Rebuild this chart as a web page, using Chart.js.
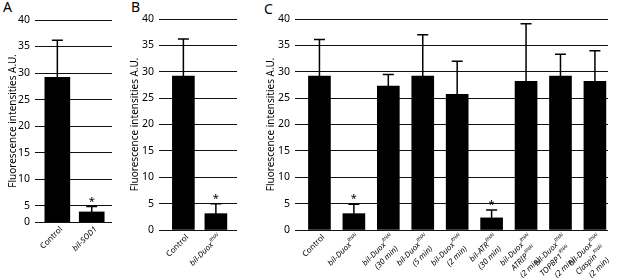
<!DOCTYPE html>
<html lang="en">
<head>
<meta charset="UTF-8">
<title>Fluorescence intensities</title>
<style>
  body { margin: 0; background: #fff; width: 617px; height: 278px; position: relative; overflow: hidden; font-family: "Noto Sans", sans-serif; }
  canvas { position: absolute; top: 0; }
  .letter { position: absolute; top: 0; font-size: 14px; line-height: 14px; color: #000; }
</style>
</head>
<body>
<div class="letter" style="left:3px">A</div>
<div class="letter" style="left:131px">B</div>
<div class="letter" style="left:264px;top:2px">C</div>
<canvas id="chartA" width="120" height="278" style="left:0"></canvas>
<canvas id="chartB" width="120" height="278" style="left:120px"></canvas>
<canvas id="chartC" width="377" height="278" style="left:240px"></canvas>
<script src="https://cdn.jsdelivr.net/npm/chart.js"></script>
<script>
// y axis, shared by all three panels
const yTickLabels = [0, 5, 10, 15, 20, 25, 30, 35, 40];
const axisCutA = 1.9; // panel A's axis is cut short at the bottom

// panel A
const labelsA = [['Control'], ['bil-SOD1']];
const meansA = [29.2, 3.8];
const errorsA = [7.0, 1.0];
const starsA = [false, true];

// panel B
const labelsB = [['Control'], ['bil-Duox^RNAi']];
const meansB = [29.2, 3.1];
const errorsB = [7.0, 1.9];
const starsB = [false, true];

// panel C
const labelsC = [
    ['Control'],
    ['bil-Duox^RNAi'],
    ['bil-Duox^RNAi', '(30 min)'],
    ['bil-Duox^RNAi', '(5 min)'],
    ['bil-Duox^RNAi', '(2 min)'],
    ['bil-ATR^RNAi', '(30 min)'],
    ['bil-Duox^RNAi', 'ATRIP^RNAi', '(2 min)'],
    ['bil-Duox^RNAi', 'TOPBP1^RNAi', '(2 min)'],
    ['bil-Duox^RNAi', 'Claspin^RNAi', '(2 min)']
];
const meansC = [29.2, 3.1, 27.3, 29.2, 25.7, 2.3, 28.2, 29.2, 28.2];
const errorsC = [6.9, 1.8, 2.2, 7.8, 6.3, 1.5, 10.9, 4.1, 5.8];
const starsC = [false, true, false, false, false, true, false, false, false];

const FONT = '"Noto Sans", sans-serif';

// upper error bars + asterisks
const errorPlugin = {
    id: 'errbars',
    afterDatasetsDraw(chart, args, opts) {
        const { ctx } = chart;
        const xs = chart.scales.x, ys = chart.scales.y;
        ctx.save();
        ctx.strokeStyle = '#000';
        ctx.fillStyle = '#000';
        ctx.lineWidth = 1.5;
        opts.means.forEach((m, i) => {
            const x = xs.getPixelForValue(i);
            const y0 = ys.getPixelForValue(m);
            const y1 = ys.getPixelForValue(m + opts.errors[i]);
            ctx.beginPath();
            ctx.moveTo(x, y0);
            ctx.lineTo(x, y1);
            ctx.moveTo(x - 5.5, y1);
            ctx.lineTo(x + 5.5, y1);
            ctx.stroke();
            if (opts.stars[i]) {
                ctx.font = '11px ' + FONT;
                ctx.textAlign = 'center';
                ctx.textBaseline = 'alphabetic';
                ctx.fillText('*', x, y1 - 2);
            }
        });
        ctx.restore();
    }
};

// rotated category labels, '^' marks the superscript part
const labelPlugin = {
    id: 'xlabels',
    afterDraw(chart, args, opts) {
        const { ctx, chartArea } = chart;
        const xs = chart.scales.x;
        ctx.save();
        ctx.fillStyle = '#000';
        ctx.textBaseline = 'middle';
        ctx.textAlign = 'left';
        opts.labels.forEach((lines, i) => {
            const px = xs.getPixelForValue(i);
            lines.forEach((line, j) => {
                const style = line === 'Control' ? '' : 'italic ';
                const [main, sup] = line.split('^');
                const mainFont = style + '8px ' + FONT;
                const supFont = style + '5px ' + FONT;
                ctx.font = mainFont;
                const w1 = ctx.measureText(main).width;
                let w2 = 0;
                if (sup) {
                    ctx.font = supFont;
                    w2 = ctx.measureText(sup).width + 0.5;
                }
                ctx.save();
                // each following line steps mostly straight down
                ctx.translate(px + 4 + j * 4.5, chartArea.bottom + 6 + j * 11.5);
                ctx.rotate(-Math.PI / 4);
                const x = -(w1 + w2);
                ctx.font = mainFont;
                ctx.fillText(main, x, 0);
                if (sup) {
                    ctx.font = supFont;
                    ctx.fillText(sup, x + w1 + 0.5, -3);
                }
                ctx.restore();
            });
        });
        ctx.restore();
    }
};

function makeChart(id, labels, means, errors, stars, cfg) {
    const yScale = {
        min: cfg.yMin,
        max: 40,
        afterFit: s => { s.width = cfg.axisW; },
        border: { display: false },
        grid: { color: '#111', drawTicks: false },
        ticks: { stepSize: 5, padding: 5, color: '#000', font: { size: 10.5, family: FONT } },
        title: { display: true, text: 'Fluorescence intensities A.U.', padding: 0, color: '#000', font: { size: 10, family: FONT } }
    };
    if (cfg.yMin > 0) {
        // put the "0" label on the cut bottom of the axis
        yScale.afterBuildTicks = s => {
            s.ticks = yTickLabels.map(v => ({ value: v === 0 ? cfg.yMin : v }));
        };
        yScale.ticks.callback = v => (v < 5 ? '0' : v);
    }
    return new Chart(document.getElementById(id), {
        type: 'bar',
        data: {
            datasets: [{
                data: means.map((v, i) => ({ x: i, y: v })),
                backgroundColor: '#000',
                barThickness: cfg.barW
            }]
        },
        options: {
            responsive: false,
            animation: false,
            layout: { padding: cfg.padding },
            plugins: {
                legend: { display: false },
                tooltip: { enabled: false },
                errbars: { means, errors, stars },
                xlabels: { labels }
            },
            scales: {
                x: { type: 'linear', display: false, offset: false, min: cfg.xMin, max: cfg.xMax },
                y: yScale
            }
        },
        plugins: [errorPlugin, labelPlugin]
    });
}

makeChart('chartA', labelsA, meansA, errorsA, starsA, {
    yMin: axisCutA, axisW: 28, barW: 25, xMin: -0.65, xMax: 1.59,
    padding: { left: 7, right: 8, top: 20, bottom: 56 }
});
makeChart('chartB', labelsB, meansB, errorsB, starsB, {
    yMin: 0, axisW: 30, barW: 22, xMin: -0.75, xMax: 1.65,
    padding: { left: 9, right: 3, top: 19, bottom: 48 }
});
makeChart('chartC', labelsC, meansC, errorsC, starsC, {
    yMin: 0, axisW: 30, barW: 22, xMin: -0.71, xMax: 8.38,
    padding: { left: 25, right: 9, top: 19, bottom: 48 }
});
</script>
</body>
</html>
